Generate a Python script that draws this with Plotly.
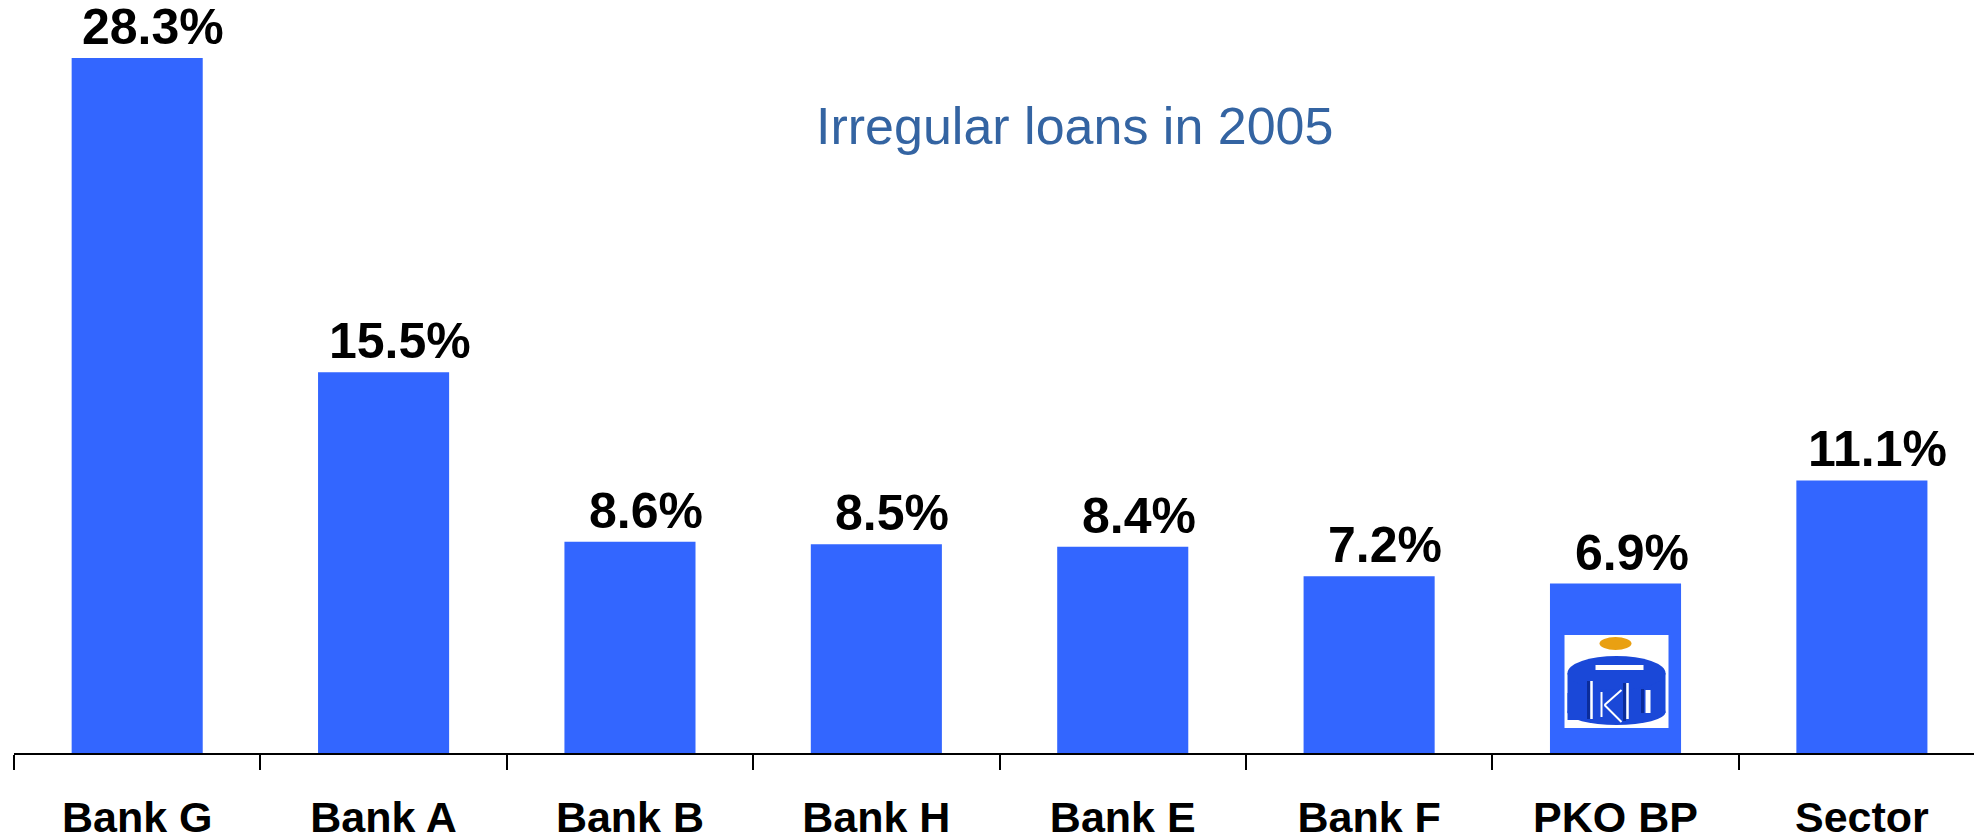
import plotly.graph_objects as go

# Irregular loans share by bank, 2005 (%)
banks = ["Bank G", "Bank A", "Bank B", "Bank H", "Bank E", "Bank F", "PKO BP", "Sector"]
irregular_pct = [28.3, 15.5, 8.6, 8.5, 8.4, 7.2, 6.9, 11.1]
value_labels = ["28.3%", "15.5%", "8.6%", "8.5%", "8.4%", "7.2%", "6.9%", "11.1%"]
title_text = "Irregular loans in 2005"

BAR_COLOR = "#3366FF"
TITLE_COLOR = "#3464A2"
FONT = "Liberation Sans, Arial, sans-serif"

fig = go.Figure(
    go.Bar(
        x=banks,
        y=irregular_pct,
        marker=dict(color=BAR_COLOR, line=dict(width=0)),
        width=0.532,
        hoverinfo="x+y",
    )
)

# value labels above each bar
for b, v, t in zip(banks, irregular_pct, value_labels):
    fig.add_annotation(
        x=b, y=v, text=t, showarrow=False,
        xanchor="center", yanchor="bottom",
        xshift=16, yshift=1,
        font=dict(family=FONT, size=50, color="black", weight="bold"),
    )

fig.add_annotation(
    xref="paper", yref="paper", x=0.541, y=0.833,
    text=title_text, showarrow=False,
    xanchor="center", yanchor="middle",
    font=dict(family=FONT, size=52, color=TITLE_COLOR),
)

# PKO BP logo drawn inside its bar (pixel offsets from bar centre / baseline)
logo_idx = banks.index("PKO BP")
LOGO_BLUE = "#1A48D8"
LOGO_DARK = "#0B2C9A"


def logo_shape(kind, x0, y0, x1, y1, fill=None, line_color=None, line_width=0):
    d = dict(
        type=kind, xref="x", yref="y",
        xsizemode="pixel", ysizemode="pixel",
        xanchor=logo_idx, yanchor=0,
        x0=x0, x1=x1, y0=y0, y1=y1,
        line=dict(width=line_width, color=line_color or "rgba(0,0,0,0)"),
        layer="above",
    )
    if fill is not None:
        d["fillcolor"] = fill
    return d


logo = [
    logo_shape("rect", -51, 25, 53, 118, fill="white"),
    logo_shape("circle", -16, 103, 16, 116, fill="#E9A012"),
    # cylinder body
    logo_shape("circle", -48, 28, 50, 54, fill=LOGO_BLUE),
    logo_shape("rect", -48, 40, 50, 80, fill=LOGO_BLUE),
    logo_shape("circle", -48, 63, 50, 97, fill=LOGO_BLUE),
    logo_shape("rect", -48, 33, -26, 60, fill=LOGO_BLUE),
    # coin slot
    logo_shape("rect", -20, 83, 28, 88, fill="white"),
    # shading along letter edges
    logo_shape("line", -27, 34, -27, 72, line_color=LOGO_DARK, line_width=3),
    logo_shape("line", 9, 32, 9, 70, line_color=LOGO_DARK, line_width=3),
    logo_shape("line", 27, 40, 27, 64, line_color=LOGO_DARK, line_width=3),
    # gaps between P, K and O
    logo_shape("line", -24, 34, -24, 72, line_color="white", line_width=2.5),
    logo_shape("line", 12, 34, 12, 70, line_color="white", line_width=2.5),
    # K strokes
    logo_shape("line", -14, 36, -14, 61, line_color="white", line_width=2),
    logo_shape("line", -11, 48, 6, 63, line_color="white", line_width=2),
    logo_shape("line", -11, 48, 6, 31, line_color="white", line_width=2),
    # O counter
    logo_shape("rect", 30, 40, 35, 63, fill="white"),
]
fig.update_layout(shapes=logo)

fig.update_layout(
    width=1974, height=838,
    margin=dict(l=14, r=0, t=0, b=85, pad=0),
    paper_bgcolor="white", plot_bgcolor="white",
    showlegend=False,
    bargap=0.468,
    xaxis=dict(
        type="category",
        range=[-0.5, 7.455],
        showline=True, linecolor="black", linewidth=2,
        ticks="outside", tickson="boundaries",
        ticklen=15, tickwidth=2, tickcolor="black",
        tickfont=dict(family=FONT, size=43, color="black", weight="bold"),
        ticklabelstandoff=25,
        showgrid=False, zeroline=False,
        automargin=False,
    ),
    yaxis=dict(
        range=[0, 30.66],
        visible=False,
        showgrid=False, zeroline=False,
        automargin=False,
    ),
)

fig.write_html("out.html")
